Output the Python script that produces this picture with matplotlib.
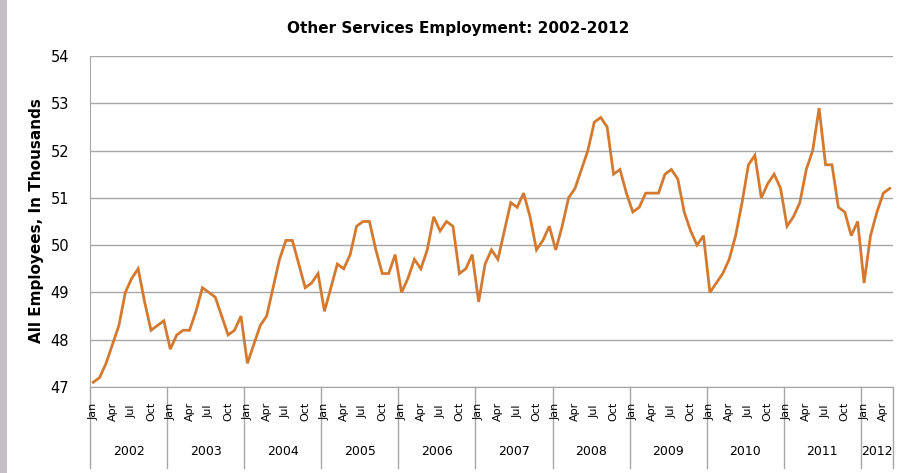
import matplotlib
matplotlib.use("Agg")
import matplotlib.pyplot as plt
import matplotlib.transforms as mtransforms
from matplotlib.lines import Line2D
from matplotlib.patches import Rectangle

# Monthly values (thousands)
v2002 = [47.1, 47.2, 47.5, 47.9, 48.3, 49.0, 49.3, 49.5, 48.8, 48.2, 48.3, 48.4]
v2003 = [47.8, 48.1, 48.2, 48.2, 48.6, 49.1, 49.0, 48.9, 48.5, 48.1, 48.2, 48.5]
v2004 = [47.5, 47.9, 48.3, 48.5, 49.1, 49.7, 50.1, 50.1, 49.6, 49.1, 49.2, 49.4]
v2005 = [48.6, 49.1, 49.6, 49.5, 49.8, 50.4, 50.5, 50.5, 49.9, 49.4, 49.4, 49.8]
v2006 = [49.0, 49.3, 49.7, 49.5, 49.9, 50.6, 50.3, 50.5, 50.4, 49.4, 49.5, 49.8]
v2007 = [48.8, 49.6, 49.9, 49.7, 50.3, 50.9, 50.8, 51.1, 50.6, 49.9, 50.1, 50.4]
v2008 = [49.9, 50.4, 51.0, 51.2, 51.6, 52.0, 52.6, 52.7, 52.5, 51.5, 51.6, 51.1]
v2009 = [50.7, 50.8, 51.1, 51.1, 51.1, 51.5, 51.6, 51.4, 50.7, 50.3, 50.0, 50.2]
v2010 = [49.0, 49.2, 49.4, 49.7, 50.2, 50.9, 51.7, 51.9, 51.0, 51.3, 51.5, 51.2]
v2011 = [50.4, 50.6, 50.9, 51.6, 52.0, 52.9, 51.7, 51.7, 50.8, 50.7, 50.2, 50.5]
v2012 = [49.2, 50.2, 50.7, 51.1, 51.2]

years = ["2002", "2003", "2004", "2005", "2006", "2007", "2008", "2009",
         "2010", "2011", "2012"]
by_year = [v2002, v2003, v2004, v2005, v2006, v2007, v2008, v2009,
           v2010, v2011, v2012]
month_labels = {0: "Jan", 3: "Apr", 6: "Jul", 9: "Oct"}
yticks = [47, 48, 49, 50, 51, 52, 53, 54]

values = [v for yr in by_year for v in yr]
n = len(values)
xs = [i + 0.5 for i in range(n)]

plt.rcParams['font.family'] = ['DejaVu Sans']

fig = plt.figure(figsize=(8.99, 4.73), dpi=100)
ax = fig.add_axes([90 / 899, 1 - 387 / 473, 803 / 899, 331 / 473])

# grid lines
for y in yticks:
    ax.axhline(y, color='#a6a6a6', linewidth=1.0, zorder=1)

ax.plot(xs, values, color='#d47a30', linewidth=2.0, zorder=3,
        solid_joinstyle='miter')

ax.set_xlim(0, n)
ax.set_ylim(47, 54)
ax.set_yticks(yticks)
ax.set_yticklabels([str(y) for y in yticks], fontsize=10.5)
ax.tick_params(axis='y', length=0, pad=15)
ax.set_xticks([])

for s in ['top', 'right']:
    ax.spines[s].set_visible(False)
ax.spines['left'].set_color('#a6a6a6')
ax.spines['bottom'].set_color('#a6a6a6')

# multi-level category axis
trans = mtransforms.blended_transform_factory(ax.transData, ax.transAxes)
start = 0
bounds = [0]
for yname, yr in zip(years, by_year):
    for m in range(len(yr)):
        if m in month_labels:
            ax.text(start + m + 0.5, -0.0725, month_labels[m], transform=trans,
                    rotation=90, ha='center', va='center', fontsize=8)
    ax.text(start + len(yr) / 2, -0.196, yname, transform=trans,
            ha='center', va='center', fontsize=9)
    start += len(yr)
    bounds.append(start)

for b in bounds:
    ax.add_line(Line2D([b, b], [0, -0.245], transform=trans,
                       color='#a6a6a6', linewidth=1.0, clip_on=False))

fig.text(458 / 899, 1 - 28 / 473, "Other Services Employment: 2002-2012",
         ha='center', va='center', fontsize=11, fontweight='bold')
fig.text(37 / 899, 1 - 221 / 473, "All Employees, In Thousands",
         ha='center', va='center', rotation=90, fontsize=11, fontweight='bold')

# gray frame at the left edge
fig.patches.append(Rectangle((0, 0), 7 / 899, 1, transform=fig.transFigure,
                             facecolor='#c4c0c6', edgecolor='none'))

fig.savefig("out.png", dpi=100)
